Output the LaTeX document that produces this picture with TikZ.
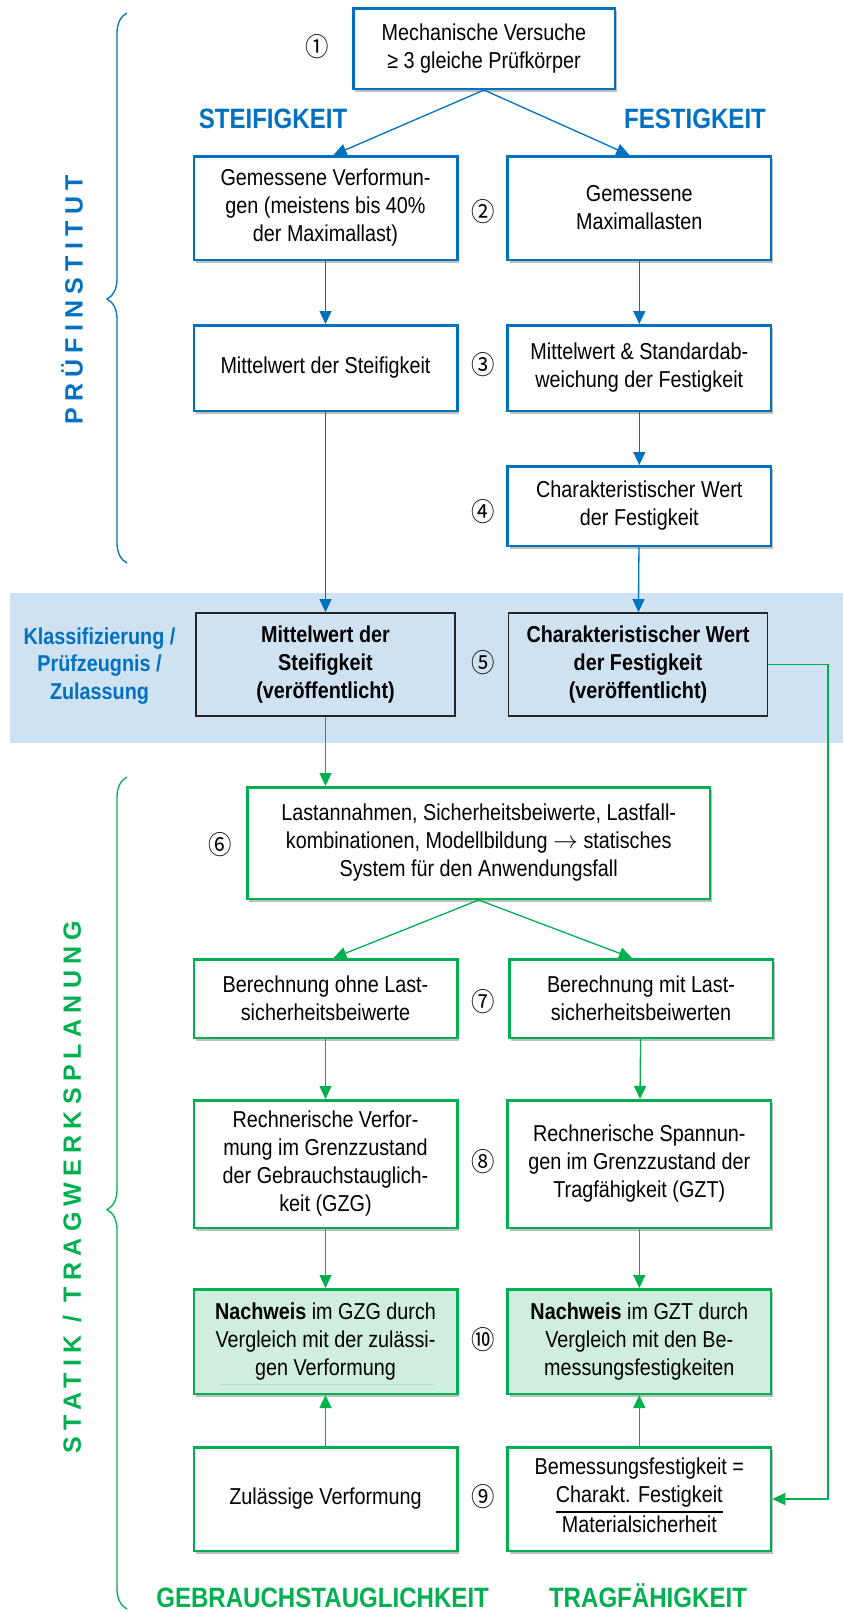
\documentclass[tikz,border=0pt]{standalone}
\usepackage{fontspec}
\setmainfont[FakeStretch=0.86]{Liberation Sans}
\newfontfamily\circfont[FakeStretch=0.9]{Noto Sans CJK SC}
\newfontfamily\spacedfont[LetterSpace=25]{Liberation Sans}
\usepackage{xcolor}
\usepackage{tikz}
\usetikzlibrary{arrows.meta}
\usetikzlibrary{shadows}
\usetikzlibrary{decorations.pathreplacing}
\definecolor{pblue}{RGB}{0,112,192}
\definecolor{sgreen}{RGB}{0,176,80}
\definecolor{bandblue}{RGB}{207,226,242}
\definecolor{proofgreen}{RGB}{208,238,221}
\setlength{\arrayrulewidth}{2pt}

\begin{document}
\begin{tikzpicture}[x=1pt, y=-1pt,
		every node/.style={inner sep=0pt},
		box/.style={draw, line width=2.5pt, fill=white, align=center, font=\fontsize{23}{28}\selectfont, minimum width=263.5pt, drop shadow={shadow xshift=2pt, shadow yshift=-3pt, opacity=0.25, fill=black}},
		bluebox/.style={box, draw=pblue},
		greenbox/.style={box, draw=sgreen},
		proofbox/.style={greenbox, fill=proofgreen},
		pubbox/.style={draw=black!85, line width=1.8pt, fill=bandblue, align=center, font=\bfseries\fontsize{23}{28}\selectfont, minimum width=259pt, minimum height=103pt},
		num/.style={font=\circfont\fontsize{26}{28}\selectfont},
		head/.style={anchor=base, font=\bfseries\fontsize{28}{32}\selectfont},
		vtitle/.style={rotate=90, font=\spacedfont\bfseries\fontsize{25}{28}\selectfont},
		bluearrow/.style={pblue, line width=1.3pt, -{Triangle[length=13pt, width=12pt]}},
		greenarrow/.style={sgreen, line width=1.3pt, -{Triangle[length=13pt, width=12pt]}},
		bracket/.style={line width=1.3pt, decorate, decoration={brace, amplitude=20pt, aspect=0.48}}]
			\useasboundingbox (0,0) rectangle (843,1612);
			\fill[bandblue] (10,593) rectangle (843,743);

			% Pruefinstitut
			\node[bluebox, minimum width=261.5pt, minimum height=80.5pt] (node1) at (484,48.5) {Mechanische Versuche\\≥ 3 gleiche Prüfkörper};
			\node[bluebox, minimum height=103.5pt] (node2l) at (325.5,208) {Gemessene Verformun-\\gen (meistens bis 40\%\\der Maximallast)};
			\node[bluebox, minimum height=103.5pt] (node2r) at (639.3,208) {Gemessene\\Maximallasten};
			\node[bluebox, minimum height=85.5pt] (node3l) at (325.5,368) {Mittelwert der Steifigkeit};
			\node[bluebox, minimum height=85.5pt] (node3r) at (639.3,368) {Mittelwert \& Standardab-\\weichung der Festigkeit};
			\node[bluebox, minimum height=79.5pt] (node4r) at (639.3,506) {Charakteristischer Wert\\der Festigkeit};
			\node[pubbox] (node5l) at (325.5,664.5) {Mittelwert der\\Steifigkeit\\(veröffentlicht)};
			\node[pubbox] (node5r) at (638,664.5) {Charakteristischer Wert\\der Festigkeit\\(veröffentlicht)};

			% Statik
			\node[greenbox, minimum width=462.5pt, minimum height=111.5pt] (node6) at (478.7,843) {Lastannahmen, Sicherheitsbeiwerte, Lastfall-\\kombinationen, Modellbildung $\rightarrow$ statisches\\System für den Anwendungsfall};
			\node[greenbox, minimum height=78.5pt] (node7l) at (325.5,998.5) {Berechnung ohne Last-\\sicherheitsbeiwerte};
			\node[greenbox, minimum height=78.5pt] (node7r) at (641,998.5) {Berechnung mit Last-\\sicherheitsbeiwerten};
			\node[greenbox, minimum height=127.5pt] (node8l) at (325.5,1164) {Rechnerische Verfor-\\mung im Grenzzustand\\der Gebrauchstauglich-\\keit (GZG)};
			\node[greenbox, minimum height=127.5pt] (node8r) at (639.3,1164) {Rechnerische Spannun-\\gen im Grenzzustand der\\Tragfähigkeit (GZT)};
			\node[proofbox, minimum height=104.5pt] (node10l) at (325.5,1341.5) {\textbf{Nachweis} im GZG durch\\Vergleich mit der zulässi-\\gen Verformung};
			\node[proofbox, minimum height=104.5pt] (node10r) at (639.3,1341.5) {\textbf{Nachweis} im GZT durch\\Vergleich mit den Be-\\messungsfestigkeiten};
			\node[greenbox, minimum height=103.5pt] (node9l) at (325.5,1499) {Zulässige Verformung};
			\node[greenbox, minimum height=103.5pt] (node9r) at (639.3,1499) {Bemessungsfestigkeit =\\\begin{tabular}[t]{@{}c@{}}Charakt. Festigkeit\\\hline Materialsicherheit\end{tabular}};
			\draw[sgreen!35, line width=0.8pt] ([xshift=27pt, yshift=11pt]node10l.south west) -- ([xshift=-26pt, yshift=11pt]node10l.south east);

			% step numbers
			\node[num] (num1) at (317,47) {①};
			\node[num] (num6) at (220,845) {⑥};
			\foreach \iNum/\iy in {②/212, ③/365, ④/512, ⑤/663, ⑦/1002, ⑧/1162, ⑩/1340, ⑨/1497}
			{
				\node[num] at (483,\iy) {\iNum};
			}

			% headings
			\node[head, text=pblue] (steif) at (273,128) {STEIFIGKEIT};
			\node[head, text=pblue] (fest) at (695,128) {FESTIGKEIT};
			\node[head, text=sgreen] (gzg) at (322.6,1607) {GEBRAUCHSTAUGLICHKEIT};
			\node[head, text=sgreen] (gzt) at (648,1607) {TRAGFÄHIGKEIT};
			\node[text=pblue, align=center, font=\bfseries\fontsize{23}{27.5}\selectfont] (klass) at (99.5,666) {Klassifizierung /\\Prüfzeugnis /\\Zulassung};
			\node[vtitle, text=pblue] (pruef) at (72,300) {PRÜFINSTITUT};
			\node[vtitle, text=sgreen] (statik) at (72,1187) {STATIK / TRAGWERKSPLANUNG};

			% braces
			\draw[bracket, pblue] (127,563) -- (127,13);
			\draw[bracket, sgreen] (127,1609) -- (127,777);

			% arrows
			\draw[bluearrow] (node1.south) -- ([xshift=8pt]node2l.north);
			\draw[bluearrow] (node1.south) -- ([xshift=-10pt]node2r.north);
			\foreach \iFrom/\iTo in {2l/3l, 2r/3r, 3l/5l, 3r/4r, 4r/5r}
			{
				\draw[bluearrow] (node\iFrom) -- (node\iTo);
			}
			\draw[greenarrow] (node5l.south) -- (node5l.south |- node6.north);
			\draw[greenarrow] (node6.south) -- ([xshift=8pt]node7l.north);
			\draw[greenarrow] (node6.south) -- ([xshift=-9pt]node7r.north);
			\foreach \iFrom/\iTo in {7l/8l, 7r/8r, 8l/10l, 8r/10r, 9l/10l, 9r/10r}
			{
				\draw[greenarrow] (node\iFrom) -- (node\iTo);
			}
			\coordinate (turn) at (828,0);
			\draw[greenarrow] (node5r.east) -- (node5r.east -| turn) -- (node9r.east -| turn) -- (node9r.east);
\end{tikzpicture}
\end{document}
